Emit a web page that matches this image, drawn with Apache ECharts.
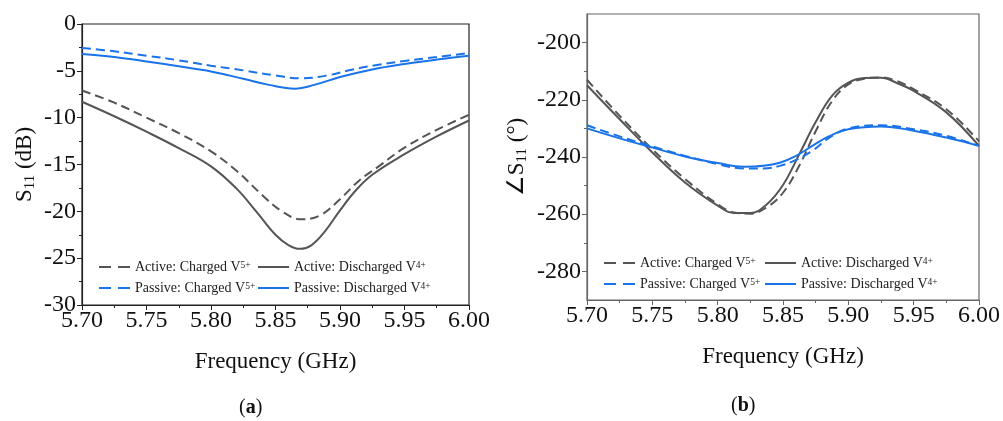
<!DOCTYPE html>
<html>
<head>
<meta charset="utf-8">
<script src="https://cdn.jsdelivr.net/npm/echarts/dist/echarts.min.js"></script>
<style>
  html, body { margin: 0; padding: 0; background: #fff; }
  #chart { width: 1003px; height: 421px; }
</style>
</head>
<body>
<div id="chart"></div>
<script>
// ---------- DATA ----------
// Panel (a): S11 magnitude (dB)
const magActiveChargedX = [5.70, 5.725, 5.75, 5.775, 5.80, 5.82, 5.84, 5.855, 5.87, 5.885, 5.90, 5.915, 5.93, 5.95, 5.975, 6.00];
const magActiveChargedY = [-7.1, -8.4, -10.0, -11.65, -13.6, -15.7, -18.3, -20.0, -20.85, -20.4, -18.7, -16.7, -15.2, -13.2, -11.3, -9.7];

const magActiveDischargedX = [5.70, 5.725, 5.75, 5.775, 5.80, 5.82, 5.835, 5.85, 5.86, 5.869, 5.878, 5.888, 5.90, 5.912, 5.925, 5.95, 5.975, 6.00];
const magActiveDischargedY = [-8.3, -9.85, -11.5, -13.25, -15.2, -17.6, -20.0, -22.5, -23.6, -24.0, -23.6, -22.2, -19.9, -17.8, -16.1, -13.9, -12.0, -10.3];

const magPassiveChargedX = [5.70, 5.725, 5.75, 5.775, 5.80, 5.825, 5.85, 5.87, 5.89, 5.91, 5.93, 5.95, 5.975, 6.00];
const magPassiveChargedY = [-2.56, -2.92, -3.38, -3.88, -4.45, -4.95, -5.5, -5.8, -5.5, -4.85, -4.35, -3.95, -3.53, -3.1];

const magPassiveDischargedX = [5.70, 5.725, 5.75, 5.775, 5.80, 5.825, 5.845, 5.865, 5.88, 5.90, 5.925, 5.95, 5.975, 6.00];
const magPassiveDischargedY = [-3.2, -3.53, -4.0, -4.52, -5.06, -5.85, -6.5, -6.9, -6.5, -5.66, -4.85, -4.27, -3.8, -3.4];

// Panel (b): S11 phase (degrees)
const phActiveChargedX = [5.70, 5.725, 5.75, 5.775, 5.80, 5.8125, 5.825, 5.8375, 5.85, 5.8625, 5.875, 5.8875, 5.90, 5.9125, 5.925, 5.9375, 5.95, 5.975, 6.00];
const phActiveChargedY = [-213.0, -225.6, -237.3, -247.7, -256.5, -259.4, -259.8, -257.6, -252.5, -243.0, -231.0, -220.5, -214.6, -212.6, -212.2, -213.5, -216.3, -223.3, -234.5];

const phActiveDischargedX = [5.70, 5.725, 5.75, 5.775, 5.80, 5.8125, 5.825, 5.8375, 5.85, 5.8625, 5.875, 5.8875, 5.90, 5.9125, 5.925, 5.9375, 5.95, 5.975, 6.00];
const phActiveDischargedY = [-214.9, -226.8, -238.4, -248.9, -257.0, -259.6, -259.6, -256.6, -249.8, -239.0, -227.8, -218.6, -214.0, -212.4, -212.3, -214.2, -216.9, -224.4, -236.1];

const phPassiveChargedX = [5.70, 5.725, 5.75, 5.775, 5.80, 5.82, 5.835, 5.8475, 5.86, 5.8725, 5.885, 5.90, 5.925, 5.95, 5.975, 6.00];
const phPassiveChargedY = [-228.9, -232.8, -236.3, -239.6, -242.5, -244.0, -244.0, -243.1, -241.0, -237.8, -233.4, -230.0, -228.9, -230.3, -232.6, -236.1];

const phPassiveDischargedX = [5.70, 5.725, 5.75, 5.775, 5.80, 5.82, 5.835, 5.8475, 5.86, 5.8725, 5.885, 5.90, 5.925, 5.95, 5.975, 6.00];
const phPassiveDischargedY = [-230.0, -233.5, -236.7, -239.8, -242.1, -243.4, -243.1, -242.0, -239.6, -236.1, -232.8, -230.3, -229.3, -230.8, -233.2, -236.1];

// Axis ticks
const freqMin = 5.70, freqMax = 6.00, freqStep = 0.05;
const magMin = -30, magMax = 0, magStep = 5;
const phMin = -290, phMax = -190;
const phMajorTicks = [-280, -260, -240, -220, -200];
const phMinorTicks = [-270, -250, -230, -210];

// Legend texts
const legendTexts = {
  AC: 'Active: Charged V{sup|5+}',
  AD: 'Active: Discharged V{sup|4+}',
  PC: 'Passive: Charged V{sup|5+}',
  PD: 'Passive: Discharged V{sup|4+}'
};

// ---------- STYLE ----------
const FONT = '"Liberation Serif", "Times New Roman", serif';
const GRAY = '#555555';
const BLUE = '#1a73e8';

function pairs(xs, ys) { return xs.map((x, i) => [x, ys[i]]); }

function mkSeries(id, xs, ys, color, dashed, gi) {
  return {
    type: 'line', name: id, xAxisIndex: gi, yAxisIndex: gi === 0 ? 0 : 1,
    data: pairs(xs, ys), smooth: 0.4, symbol: 'none', animation: false,
    lineStyle: { color: color, width: 2, type: dashed ? [9, 5] : 'solid' },
    itemStyle: { color: color }
  };
}

function mkLegend(id, left, top) {
  const dashed = id.charAt(2) === 'C';
  return {
    data: [{ name: id }], left: left, top: top, padding: 0, itemWidth: 31, itemHeight: 14,
    selectedMode: false,
    itemStyle: { opacity: 0 },
    lineStyle: { width: 2, type: dashed ? [12, 7] : 'solid' },
    formatter: () => legendTexts[id.slice(1)],
    textStyle: {
      fontFamily: FONT, fontSize: 14, color: '#222',
      rich: {
        sup: { fontFamily: FONT, fontSize: 9.5, verticalAlign: 'top', lineHeight: 10, color: '#222' }
      }
    }
  };
}

const tickLabelStyle = { fontFamily: FONT, fontSize: 24, color: '#111' };
const nameRich = {
  t: { fontFamily: FONT, fontSize: 23, color: '#111', lineHeight: 26 },
  s: { fontFamily: FONT, fontSize: 15, color: '#111', lineHeight: 14, verticalAlign: 'bottom' }
};

const xAxisCommon = (gi, frameColor) => ({
  type: 'value', gridIndex: gi, position: 'bottom', min: freqMin, max: freqMax, interval: freqStep,
  name: 'Frequency (GHz)', nameLocation: 'middle', nameGap: 45,
  nameTextStyle: { fontFamily: FONT, fontSize: 23, color: '#111' },
  axisLine: { show: true, onZero: false, lineStyle: { color: frameColor, width: 1.2 } },
  axisTick: { show: true, length: 5, lineStyle: { color: frameColor } },
  minorTick: { show: true, splitNumber: 2, length: 3, lineStyle: { color: frameColor } },
  axisLabel: { ...tickLabelStyle, margin: 4, formatter: v => v.toFixed(2) },
  splitLine: { show: false }, minorSplitLine: { show: false }
});

const option = {
  backgroundColor: '#fff',
  animation: false,
  grid: [
    { left: 82, top: 24, width: 387, height: 281, show: true, borderColor: '#222', borderWidth: 1.2, backgroundColor: 'transparent' },
    { left: 587, top: 14, width: 393, height: 286, show: true, borderColor: '#666', borderWidth: 1.2, backgroundColor: 'transparent' }
  ],
  xAxis: [ xAxisCommon(0, '#222'), xAxisCommon(1, '#666') ],
  yAxis: [
    {
      type: 'value', gridIndex: 0, position: 'left', min: magMin, max: magMax, interval: magStep,
      name: '{t|S}{s|11}{t| (dB)}', nameLocation: 'middle', nameGap: 44,
      nameTextStyle: { fontFamily: FONT, fontSize: 23, color: '#111', rich: nameRich },
      axisLine: { show: true, onZero: false, lineStyle: { color: '#222', width: 1.2 } },
      axisTick: { show: true, length: 5, lineStyle: { color: '#222' } },
      minorTick: { show: true, splitNumber: 2, length: 3, lineStyle: { color: '#222' } },
      axisLabel: { ...tickLabelStyle, margin: 6 },
      splitLine: { show: false }, minorSplitLine: { show: false }
    },
    {
      type: 'value', gridIndex: 1, position: 'left', min: phMin, max: phMax, interval: 10,
      name: '{t|∠S}{s|11}{t| (°)}', nameLocation: 'middle', nameGap: 57,
      nameTextStyle: { fontFamily: FONT, fontSize: 23, color: '#111', rich: nameRich },
      axisLine: { show: true, onZero: false, lineStyle: { color: '#666', width: 1.2 } },
      axisTick: { show: true, length: 5, customValues: phMajorTicks, lineStyle: { color: '#666' } },
      axisLabel: { ...tickLabelStyle, margin: 6, customValues: phMajorTicks },
      splitLine: { show: false }
    },
    {
      type: 'value', gridIndex: 1, position: 'left', offset: 0, min: phMin, max: phMax, interval: 10,
      axisLine: { show: false, onZero: false },
      axisTick: { show: true, length: 3, customValues: phMinorTicks, lineStyle: { color: '#666' } },
      axisLabel: { show: false },
      splitLine: { show: false }
    }
  ],
  legend: [
    mkLegend('aAC', 98, 260), mkLegend('aAD', 257, 260),
    mkLegend('aPC', 98, 281), mkLegend('aPD', 257, 281),
    mkLegend('bAC', 603, 256), mkLegend('bAD', 764, 256),
    mkLegend('bPC', 603, 277), mkLegend('bPD', 764, 277)
  ],
  series: [
    mkSeries('aAC', magActiveChargedX, magActiveChargedY, GRAY, true, 0),
    mkSeries('aAD', magActiveDischargedX, magActiveDischargedY, GRAY, false, 0),
    mkSeries('aPC', magPassiveChargedX, magPassiveChargedY, BLUE, true, 0),
    mkSeries('aPD', magPassiveDischargedX, magPassiveDischargedY, BLUE, false, 0),
    mkSeries('bAC', phActiveChargedX, phActiveChargedY, GRAY, true, 1),
    mkSeries('bAD', phActiveDischargedX, phActiveDischargedY, GRAY, false, 1),
    mkSeries('bPC', phPassiveChargedX, phPassiveChargedY, BLUE, true, 1),
    mkSeries('bPD', phPassiveDischargedX, phPassiveDischargedY, BLUE, false, 1)
  ],
  graphic: [
    { type: 'text', left: 239, top: 398, style: { text: '({b|a})', font: '20px ' + FONT, fill: '#111',
      rich: { b: { fontFamily: FONT, fontSize: 20, fontWeight: 'bold', fill: '#111' } } } },
    { type: 'text', left: 731, top: 396, style: { text: '({b|b})', font: '20px ' + FONT, fill: '#111',
      rich: { b: { fontFamily: FONT, fontSize: 20, fontWeight: 'bold', fill: '#111' } } } }
  ]
};

const chart = echarts.init(document.getElementById('chart'), null, { renderer: 'canvas' });
chart.setOption(option);
</script>
</body>
</html>
